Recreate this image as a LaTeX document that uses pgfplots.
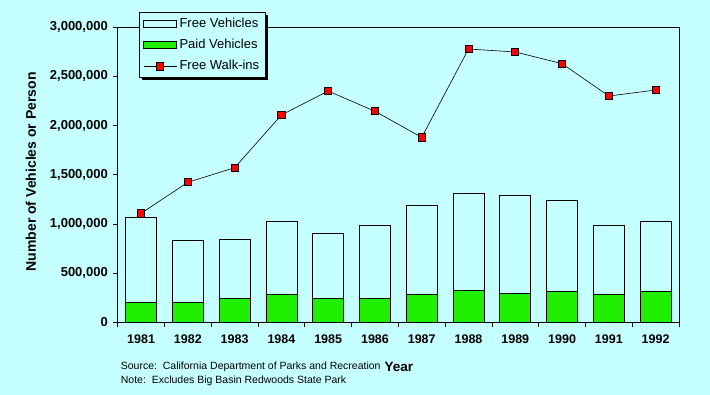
\documentclass[border=0pt]{standalone}
\usepackage{fontspec}
\setmainfont{Liberation Sans}
\usepackage{pgfplots}
\pgfplotsset{compat=1.18}
\definecolor{bg}{RGB}{198,255,255}
\definecolor{paid}{RGB}{32,240,0}
\definecolor{walk}{RGB}{255,0,0}
\pgfdeclarelayer{bglayer}
\pgfdeclarelayer{shadowlayer}
\pgfsetlayers{bglayer,shadowlayer,main}
\begin{document}
\begin{tikzpicture}
\begin{pgfonlayer}{bglayer}
\path[use as bounding box, fill=bg] (-117.7pt,-72.7pt) rectangle (592.3pt,322.3pt);
\end{pgfonlayer}
\begin{axis}[
  at={(0pt,0pt)}, anchor=south west,
  scale only axis, width=561.3pt, height=295pt,
  xmin=-0.5, xmax=11.5, ymin=0, ymax=3000000,
  ybar stacked, bar width=31pt,
  xtick={0,1,2,3,4,5,6,7,8,9,10,11},
  xticklabels={1981,1982,1983,1984,1985,1986,1987,1988,1989,1990,1991,1992},
  minor xtick={-0.5,0.5,1.5,2.5,3.5,4.5,5.5,6.5,7.5,8.5,9.5,10.5,11.5},
  ytick={0,500000,1000000,1500000,2000000,2500000,3000000},
  xtick pos=left, ytick pos=left,
  tick align=outside,
  major tick length=4.4pt, minor tick length=5pt,
  major x tick style={draw=none},
  tick style={black, line width=0.8pt},
  axis line style={black, line width=0.8pt},
  scaled y ticks=false,
  /pgf/number format/assume math mode=true,
  yticklabel style={/pgf/number format/fixed, /pgf/number format/1000 sep={,}, font=\bfseries\fontsize{13}{15}\selectfont, xshift=-2pt},
  xticklabel style={font=\bfseries\fontsize{12.5}{15}\selectfont, yshift=-5pt},
  ylabel={Number of Vehicles or Person},
  every axis y label/.style={at={(axis description cs:-0.1545,0.51)}, rotate=90, anchor=center, font=\bfseries\fontsize{14}{16}\selectfont},
  xlabel={Year},
  every axis x label/.style={at={(axis description cs:0.501,-0.1515)}, anchor=center, font=\bfseries\fontsize{13.5}{15}\selectfont},
  legend style={name=leg, at={(0.0385,1.0508)}, anchor=north west, fill=bg, draw=black, line width=0.8pt,
    font=\fontsize{13}{15}\selectfont, inner xsep=3.5pt, inner ysep=3.5pt, row sep=6.3pt,
    nodes={inner xsep=2.5pt, inner ysep=2pt, text height=9pt, text depth=2pt}, cells={anchor=west}},
  legend cell align=left,
]
\addlegendimage{legend image code/.code={\draw[fill=bg, draw=black, line width=0.8pt] (0pt,-3.5pt) rectangle (33pt,3.5pt);}}
\addlegendentry{Free Vehicles}
\addlegendimage{legend image code/.code={\draw[fill=paid, draw=black, line width=0.8pt] (0pt,-3.5pt) rectangle (33pt,3.5pt);}}
\addlegendentry{Paid Vehicles}
% Paid vehicles (bottom of stack)
\addplot[forget plot, fill=paid, draw=black, line width=0.8pt] coordinates {
(0,199000) (1,199000) (2,244000) (3,285000) (4,244000) (5,244000)
(6,285000) (7,325000) (8,295000) (9,315000) (10,285000) (11,315000)};
% Free vehicles (top of stack)
\addplot[forget plot, fill=bg, draw=black, line width=0.8pt] coordinates {
(0,869000) (1,635000) (2,600000) (3,742000) (4,661000) (5,742000)
(6,905000) (7,987000) (8,997000) (9,926000) (10,701000) (11,712000)};
% Free walk-ins
\addplot[sharp plot, stack plots=false, black, line width=0.6pt, mark=square*, mark size=3.6pt,
  mark options={fill=walk, draw=black, line width=0.8pt},
  legend image code/.code={\draw[black, line width=0.6pt] (0pt,0pt) -- (33pt,0pt); \draw[black, fill=walk, line width=0.8pt] (12.9pt,-3.6pt) rectangle (20.1pt,3.6pt);}]
coordinates {
(0,1108000) (1,1424000) (2,1572000) (3,2108000) (4,2352000) (5,2146000)
(6,1881000) (7,2779000) (8,2749000) (9,2630000) (10,2301000) (11,2362000)};
\addlegendentry{Free Walk-ins}
\end{axis}
\begin{pgfonlayer}{shadowlayer}
\fill[black] ([shift={(2.5pt,-2.5pt)}]leg.south west) rectangle ([shift={(2.5pt,-2.5pt)}]leg.north east);
\end{pgfonlayer}
\node[anchor=west, font=\fontsize{10.5}{12}\selectfont, inner sep=0pt] at (3pt,-44.3pt) {Source:\ \ California Department of Parks and Recreation};
\node[anchor=west, font=\fontsize{10.5}{12}\selectfont, inner sep=0pt] at (3pt,-58.7pt) {Note:\ \ Excludes Big Basin Redwoods State Park};
\end{tikzpicture}
\end{document}
